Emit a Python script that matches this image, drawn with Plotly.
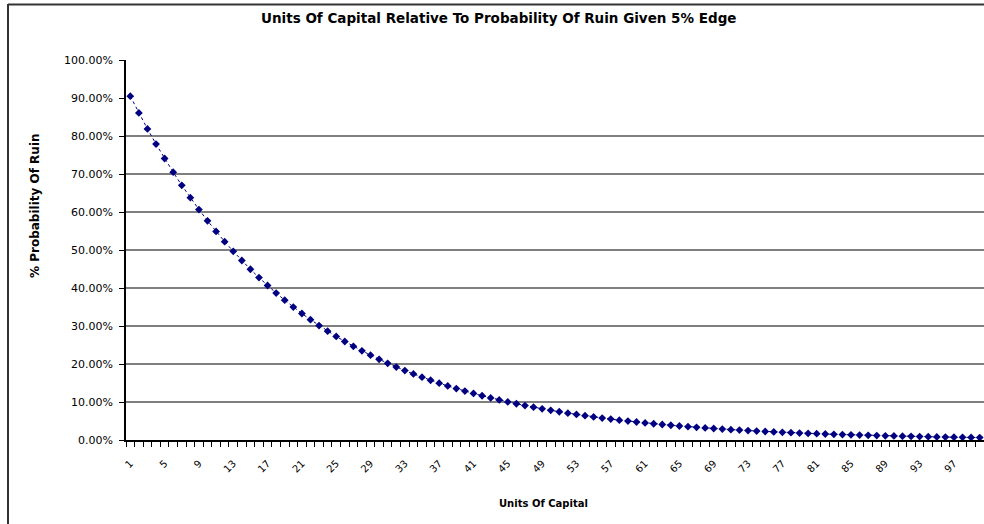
import plotly.graph_objects as go

# ---- data ----
units = list(range(1, 101))
ruin_pct = [
    90.48, 86.07, 81.87, 77.88, 74.08, 70.47, 67.03, 63.76, 60.65, 57.69,
    54.88, 52.20, 49.66, 47.24, 44.93, 42.74, 40.66, 38.67, 36.79, 34.99,
    33.29, 31.67, 30.12, 28.65, 27.25, 25.92, 24.66, 23.46, 22.31, 21.22,
    20.19, 19.20, 18.27, 17.38, 16.53, 15.72, 14.96, 14.23, 13.53, 12.87,
    12.25, 11.65, 11.08, 10.54, 10.03, 9.54, 9.07, 8.63, 8.21, 7.81,
    7.43, 7.07, 6.72, 6.39, 6.08, 5.78, 5.50, 5.23, 4.98, 4.74,
    4.50, 4.28, 4.08, 3.88, 3.69, 3.51, 3.34, 3.18, 3.02, 2.87,
    2.73, 2.60, 2.47, 2.35, 2.24, 2.13, 2.02, 1.93, 1.83, 1.74,
    1.66, 1.58, 1.50, 1.43, 1.36, 1.29, 1.23, 1.17, 1.11, 1.06,
    1.01, 0.96, 0.91, 0.87, 0.82, 0.78, 0.74, 0.71, 0.67, 0.64,
]
x_tick_vals = [1, 5, 9, 13, 17, 21, 25, 29, 33, 37, 41, 45, 49, 53, 57, 61,
               65, 69, 73, 77, 81, 85, 89, 93, 97]
x_tick_text = [str(v) for v in x_tick_vals]
y_tick_vals = [0, 10, 20, 30, 40, 50, 60, 70, 80, 90, 100]
y_tick_text = ["0.00%", "10.00%", "20.00%", "30.00%", "40.00%", "50.00%",
               "60.00%", "70.00%", "80.00%", "90.00%", "100.00%"]
grid_vals = [10, 20, 30, 40, 50, 60, 70, 80]

title_text = "Units Of Capital Relative To Probability Of Ruin Given 5% Edge"
x_title = "Units Of Capital"
y_title = "% Probability Of Ruin"

FONT = "DejaVu Sans, Liberation Sans, Arial, sans-serif"
W, H = 984, 524
L, R, T, B = 126, 0, 60, 84
PW, PH = W - L - R, H - T - B

def px(x):
    return (x - L) / PW

def py(y):
    return (H - B - y) / PH

fig = go.Figure()
fig.add_trace(go.Scatter(
    x=units, y=ruin_pct, mode="lines+markers",
    line=dict(color="#000080", width=1, dash="dot"),
    marker=dict(symbol="diamond", size=6, color="#000080"),
    showlegend=False, hoverinfo="x+y",
))

shapes = [
    dict(type="line", xref="paper", yref="y", x0=0, x1=1, y0=g, y1=g,
         line=dict(color="#000000", width=1.2), layer="below")
    for g in grid_vals
]
shapes += [
    dict(type="line", xref="paper", yref="paper", x0=px(8), x1=px(8),
         y0=py(4), y1=py(530), line=dict(color="#333333", width=2)),
    dict(type="line", xref="paper", yref="paper", x0=px(8), x1=px(990),
         y0=py(4.5), y1=py(4.5), line=dict(color="#333333", width=2)),
]

fig.update_layout(
    width=W, height=H,
    margin=dict(l=L, r=R, t=T, b=B, autoexpand=False),
    paper_bgcolor="white", plot_bgcolor="white",
    font=dict(family=FONT, color="black", size=9),
    xaxis=dict(
        range=[0.5, 100.5], tickmode="array", tickvals=x_tick_vals,
        ticktext=x_tick_text, tickangle=-45, ticks="", showgrid=False,
        zeroline=False, showline=True, linecolor="black", linewidth=1.5,
        tickfont=dict(size=10, family=FONT), ticklabelstandoff=12,
        automargin=False,
        minor=dict(tick0=0.5, dtick=1, ticks="outside", ticklen=5,
                   tickcolor="black", tickwidth=1, showgrid=False),
    ),
    yaxis=dict(
        range=[0, 100], tickmode="array", tickvals=y_tick_vals,
        ticktext=y_tick_text, ticks="outside", ticklen=5, tickcolor="black",
        showgrid=False, zeroline=False, showline=True, linecolor="black",
        linewidth=1.5, tickfont=dict(size=11, family=FONT),
        ticklabelstandoff=4, automargin=False,
    ),
    annotations=[
        dict(text="<b>" + title_text + "</b>", x=px(498), y=py(18),
             xref="paper", yref="paper", showarrow=False,
             font=dict(size=13.5, family=FONT), xanchor="center", yanchor="middle"),
        dict(text="<b>" + x_title + "</b>", x=px(543), y=py(503), xref="paper",
             yref="paper", showarrow=False, font=dict(size=10, family=FONT),
             xanchor="center", yanchor="middle"),
        dict(text="<b>" + y_title + "</b>", x=px(35), y=py(206), xref="paper",
             yref="paper", showarrow=False, textangle=-90,
             font=dict(size=12, family=FONT), xanchor="center", yanchor="middle"),
    ],
    shapes=shapes,
)

fig.write_html("out.html", config={"displayModeBar": False},
               post_script="document.body.style.margin='0px';")
